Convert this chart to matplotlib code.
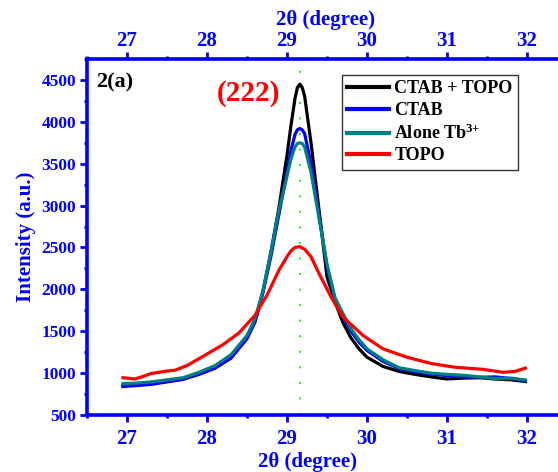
import numpy as np
import matplotlib
matplotlib.use("Agg")
import matplotlib.pyplot as plt

# ---- data ----
x_main = [26.95, 27.1, 27.3, 27.5, 27.7, 27.9, 28.1, 28.3, 28.5, 28.6, 28.7, 28.8,
          28.9, 29.0, 29.05, 29.1, 29.13, 29.16, 29.19, 29.22, 29.3, 29.4, 29.5,
          29.6, 29.7, 29.8, 29.9, 30.0, 30.2, 30.4, 30.6, 30.8, 31.0, 31.2, 31.4,
          31.6, 31.8, 31.98]
ctab_topo = [850, 860, 875, 900, 930, 990, 1060, 1180, 1430, 1620, 1980, 2450,
             2980, 3600, 3960, 4280, 4410, 4450, 4410, 4310, 3750, 2950, 2150,
             1850, 1600, 1420, 1290, 1190, 1080, 1020, 985, 955, 930, 940, 945,
             930, 920, 900]
ctab = [840, 850, 865, 895, 925, 985, 1060, 1180, 1410, 1610, 1960, 2400,
        2900, 3400, 3660, 3850, 3905, 3920, 3905, 3860, 3500, 2900, 2270,
        1880, 1680, 1500, 1370, 1270, 1140, 1055, 1015, 990, 970, 955, 950,
        955, 935, 910]
alone_tb = [875, 880, 895, 920, 945, 1010, 1090, 1220, 1450, 1650, 1980, 2450,
            2950, 3350, 3560, 3700, 3740, 3750, 3740, 3700, 3400, 2850, 2300,
            1900, 1710, 1530, 1400, 1290, 1160, 1065, 1030, 1000, 985, 975, 955,
            935, 940, 918]

x_topo = [26.95, 27.1, 27.2, 27.3, 27.5, 27.6, 27.75, 27.95, 28.2, 28.4, 28.6,
          28.75, 28.9, 29.0, 29.05, 29.1, 29.16, 29.22, 29.3, 29.4, 29.55, 29.7,
          29.95, 30.2, 30.5, 30.8, 31.1, 31.45, 31.7, 31.85, 31.98]
topo = [945, 930, 960, 995, 1025, 1035, 1090, 1200, 1340, 1480, 1690, 1930,
        2230, 2390, 2460, 2500, 2510, 2480, 2390, 2190, 1910, 1670, 1450, 1290,
        1190, 1115, 1070, 1045, 1010, 1020, 1060]

peak_pos = 29.16
xticks = [27, 28, 29, 30, 31, 32]
yticks = [500, 1000, 1500, 2000, 2500, 3000, 3500, 4000, 4500]

BLUE = "#0000ff"
plt.rcParams["font.family"] = "Liberation Serif"
plt.rcParams["font.weight"] = "bold"
plt.rcParams["mathtext.fontset"] = "custom"
plt.rcParams["mathtext.rm"] = "Liberation Serif:bold"
plt.rcParams["mathtext.it"] = "Liberation Serif:bold"
plt.rcParams["mathtext.bf"] = "Liberation Serif:bold"

fig = plt.figure(figsize=(5.58, 4.72), dpi=100)
ax = fig.add_axes([87 / 558, 57 / 472, 490 / 558, 356 / 472])

ax.axvline(peak_pos, color="lime", lw=1.4, linestyle=(0, (1, 7)), zorder=1)
lw = 2.3
ax.plot(x_main, ctab_topo, color="black", lw=lw, label="CTAB + TOPO", solid_joinstyle="round")
ax.plot(x_main, ctab, color="blue", lw=lw, label="CTAB", solid_joinstyle="round")
ax.plot(x_main, alone_tb, color="#008080", lw=lw, label=r"Alone Tb$^{\text{3+}}$",
        solid_joinstyle="round")
ax.plot(x_topo, topo, color="red", lw=lw, label="TOPO", solid_joinstyle="round")

ax.set_xlim(26.5, 32.625)
ax.set_ylim(500, 4750)
ax.set_xticks(xticks)
ax.set_xticks(np.arange(26.5, 32.6, 0.5), minor=True)
ax.set_yticks(yticks)
ax.set_yticks(np.arange(500, 4751, 250), minor=True)

for s in ["left", "bottom"]:
    ax.spines[s].set_color(BLUE)
    ax.spines[s].set_linewidth(2.6)
ax.spines["right"].set_visible(False)
ax.spines["top"].set_visible(False)

ax.tick_params(axis="both", which="major", direction="out", length=5, width=2, color=BLUE,
               labelcolor=BLUE)
ax.tick_params(axis="both", which="minor", direction="out", length=2.5, width=2, color=BLUE)
ax.tick_params(axis="x", labelsize=15, pad=5)
ax.tick_params(axis="y", labelsize=12.5, pad=3)
ax.tick_params(right=False, top=False)

sec = ax.secondary_xaxis("top")
sec.set_xticks(xticks)
sec.set_xticks(np.arange(26.5, 32.6, 0.5), minor=True)
sec.spines["top"].set_color(BLUE)
sec.spines["top"].set_linewidth(2.6)
sec.tick_params(axis="x", which="major", direction="out", length=5, width=2, color=BLUE,
                labelcolor=BLUE, labelsize=15, pad=1)
sec.tick_params(axis="x", which="minor", direction="out", length=2.5, width=2, color=BLUE)
# top axis title
fig.text(325 / 558, 1 - 20 / 472, "2θ (degree)", fontsize=15, color=BLUE,
         fontweight="bold", ha="center", va="center")

ax.set_xlabel("2θ (degree)", fontsize=15, color=BLUE, fontweight="bold")
ax.xaxis.set_label_coords((308 - 87) / 490, -(462 - 415) / 356)
ax.xaxis.label.set_va("center")
ax.set_ylabel("Intensity (a.u.)", fontsize=15, color=BLUE, fontweight="bold", labelpad=4)

ax.text(0.018, 0.933, "2(a)", transform=ax.transAxes, fontsize=16, fontweight="bold",
        color="black", va="center", ha="left")
ax.text(0.265, 0.902, "(222)", transform=ax.transAxes, fontsize=21, fontweight="bold",
        color="red", va="center", ha="left")

leg = ax.legend(loc="upper left", bbox_to_anchor=(342 / 558, 1 - 75 / 472),
                bbox_transform=fig.transFigure, borderaxespad=0, fontsize=13,
                frameon=True, fancybox=False, framealpha=1, edgecolor="#333333",
                handlelength=2.3, handletextpad=0.3, labelspacing=0.25, borderpad=0.3)
leg.get_frame().set_linewidth(1.0)
for line in leg.get_lines():
    line.set_linewidth(3)

fig.savefig("out.png", dpi=100)
